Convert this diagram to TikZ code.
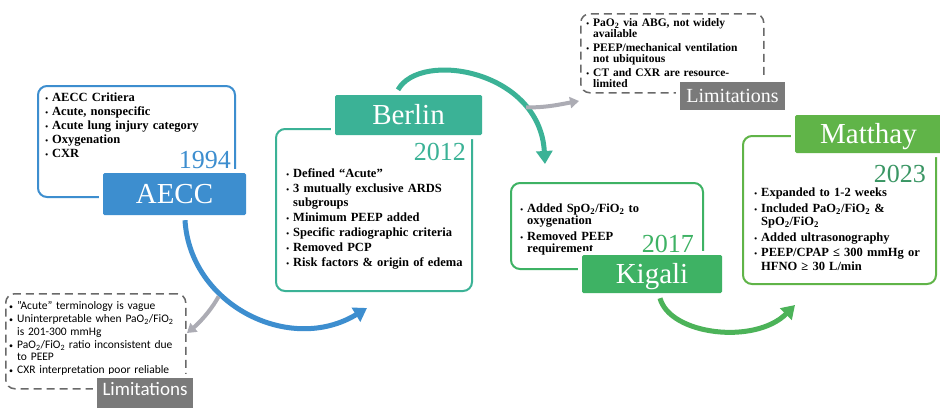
\documentclass[tikz,border=0pt]{standalone}
\usepackage{fontspec}
\setmainfont{Liberation Serif}
\setsansfont{Carlito}
\usepackage{enumitem}
\usepackage{tikz}
\usetikzlibrary{positioning, arrows.meta}

\definecolor{aeccblue}{RGB}{61,142,207}
\definecolor{berlinteal}{RGB}{59,178,150}
\definecolor{kigaligreen}{RGB}{62,178,100}
\definecolor{matthaygreen}{RGB}{96,180,72}
\definecolor{yeargreen}{RGB}{58,150,100}
\definecolor{limgray}{RGB}{122,122,122}
\definecolor{dashgray}{RGB}{105,105,105}
\definecolor{sidegray}{RGB}{172,172,180}

\setlist[itemize]{nosep, label={\footnotesize\textbullet}, labelsep=4pt}

\tikzset{
  frame/.style={rectangle, rounded corners=9pt, draw=#1, line width=2pt, anchor=north west, inner sep=0pt},
  limframe/.style={rectangle, rounded corners=9pt, draw=dashgray, line width=1.5pt, dash pattern=on 8pt off 5pt, anchor=north west, inner sep=0pt},
  tag/.style={rectangle, rounded corners=1.5pt, fill=#1, text=white, inner sep=0pt, text height=19pt, text depth=0pt, font=\fontsize{29}{30}\selectfont, preaction={draw=white, line width=8pt}},
  limtag/.style={rectangle, fill=limgray, text=white, inner sep=0pt, preaction={draw=white, line width=8pt}},
  year/.style={text=#1, anchor=base east, inner sep=0pt, font=\fontsize{26}{26}\selectfont},
  bullets/.style={anchor=north west, inner sep=0pt, align=left, text width=#1, font=\bfseries\fontsize{12.5}{13.5}\selectfont},
  arc/.style={draw=#1, line width=5pt, -{Triangle[length=13pt,width=16pt]}},
  side/.style={draw=sidegray, line width=4pt, -{Triangle[length=9pt,width=11pt]}, shorten <=3pt}
}

\begin{document}
\begin{tikzpicture}[x=1pt, y=-1pt]
    \useasboundingbox (0,0) rectangle (940,408);
    \fill[white] (0,0) rectangle (940,408);

    \node (aeccbox) [frame=aeccblue, minimum width=197pt, minimum height=111pt] at (37,85) {};
    \node (berlinbox) [frame=berlinteal, minimum width=196pt, minimum height=162pt] at (275,128) {};
    \node (kigalibox) [frame=kigaligreen, minimum width=192pt, minimum height=86pt] at (510,182) {};
    \node (matthaybox) [frame=matthaygreen, minimum width=193pt, minimum height=148pt] at (742,135) {};
    \node (lim1box) [limframe, minimum width=180pt, minimum height=95pt] at (5,293) {};
    \node (lim2box) [limframe, minimum width=183pt, minimum height=79pt] at (580,13) {};

    \node (aecctext) [bullets=190pt, font=\bfseries\fontsize{12.5}{14}\selectfont, below right=2.5pt and 3pt of aeccbox.north west] {\begin{itemize}[leftmargin=12pt]
        \item AECC Critiera
        \item Acute, nonspecific
        \item Acute lung injury category
        \item Oxygenation
        \item CXR
    \end{itemize}};
    \node (berlintext) [bullets=195pt, below right=36pt and 5pt of berlinbox.north west] {\begin{itemize}[leftmargin=13pt, itemsep=1.5pt]
        \item Defined ``Acute''
        \item 3 mutually exclusive ARDS\newline subgroups
        \item Minimum PEEP added
        \item Specific radiographic criteria
        \item Removed PCP
        \item Risk factors \& origin of edema
    \end{itemize}};
    \node (kigalitext) [bullets=190pt, font=\bfseries\fontsize{12.5}{12}\selectfont, below right=18pt and 4pt of kigalibox.north west] {\begin{itemize}[leftmargin=13pt, itemsep=4pt]
        \item Added SpO\textsubscript{2}/FiO\textsubscript{2} to\newline oxygenation
        \item Removed PEEP\newline requirement
    \end{itemize}};
    \node (matthaytext) [bullets=190pt, below right=48pt and 7pt of matthaybox.north west] {\begin{itemize}[leftmargin=12pt, itemsep=2pt]
        \item Expanded to 1-2 weeks
        \item Included PaO\textsubscript{2}/FiO\textsubscript{2} \&\newline SpO\textsubscript{2}/FiO\textsubscript{2}
        \item Added ultrasonography
        \item PEEP/CPAP ≤ 300 mmHg or\newline HFNO ≥ 30 L/min
    \end{itemize}};
    \node (lim1text) [bullets=185pt, font=\sffamily\fontsize{11.5}{12.5}\selectfont, below right=4pt and 1pt of lim1box.north west] {\begin{itemize}[leftmargin=11pt, itemsep=0.5pt]
        \item "Acute" terminology is vague
        \item Uninterpretable when PaO\textsubscript{2}/FiO\textsubscript{2}\newline is 201-300 mmHg
        \item PaO\textsubscript{2}/FiO\textsubscript{2} ratio inconsistent due\newline to PEEP
        \item CXR interpretation poor reliable
    \end{itemize}};
    \node (lim2text) [bullets=185pt, font=\bfseries\fontsize{11.5}{11}\selectfont, below right=2pt and 3pt of lim2box.north west] {\begin{itemize}[leftmargin=10pt, itemsep=3pt]
        \item PaO\textsubscript{2} via ABG, not widely\newline available
        \item PEEP/mechanical ventilation\newline not ubiquitous
        \item CT and CXR are resource-\newline limited
    \end{itemize}};

    \node (aecctag) [tag=aeccblue, minimum width=143pt, minimum height=42pt] at (174.5,194) {AECC};
    \node (berlintag) [tag=berlinteal, minimum width=147pt, minimum height=40pt] at (408.5,115) {Berlin};
    \node (kigalitag) [tag=kigaligreen, minimum width=140pt, minimum height=38pt] at (652,274) {Kigali};
    \node (matthaytag) [tag=matthaygreen, minimum width=147pt, minimum height=38pt] at (868.5,134) {Matthay};
    \node (lim1tag) [limtag, minimum width=96pt, minimum height=30pt, text height=12pt, text depth=7pt, font=\sffamily\fontsize{19}{20}\selectfont] at (145,393) {Limitations};
    \node (lim2tag) [limtag, minimum width=105pt, minimum height=28pt, text height=13pt, text depth=0pt, font=\fontsize{20}{21}\selectfont] at (732.5,96) {Limitations};

    \node (aeccyear) [year=aeccblue] at (231,168) {1994};
    \node (berlinyear) [year=berlinteal] at (466,160) {2012};
    \node (kigaliyear) [year=kigaligreen] at (694,252) {2017};
    \node (matthayyear) [year=yeargreen] at (926,182) {2023};

    \coordinate (bluetip) at (367,308);
    \coordinate (tealtip) at (545,164);
    \coordinate (greentip) at (795,305);
    \coordinate (lim1tip) at (187,333);
    \coordinate (lim2tip) at (579,101);

    \draw [arc=aeccblue] ([xshift=10.5pt, yshift=-5pt]aecctag.south) .. controls (190,305) and (290,355) .. (bluetip) coordinate[pos=0.35] (bluemid);
    \draw [arc=berlinteal] ([xshift=-10.5pt, yshift=5pt]berlintag.north) .. controls (420,50) and (540,70) .. (tealtip) coordinate[pos=0.75] (tealmid);
    \draw [arc=kigaligreen!60!matthaygreen] ([xshift=8pt, yshift=-5pt]kigalitag.south) .. controls (670,335) and (755,345) .. (greentip);
    \draw [side] (bluemid) .. controls (210,312) and (198,324) .. (lim1tip);
    \draw [side] (tealmid) .. controls (545,108) and (562,104) .. (lim2tip);
\end{tikzpicture}
\end{document}
